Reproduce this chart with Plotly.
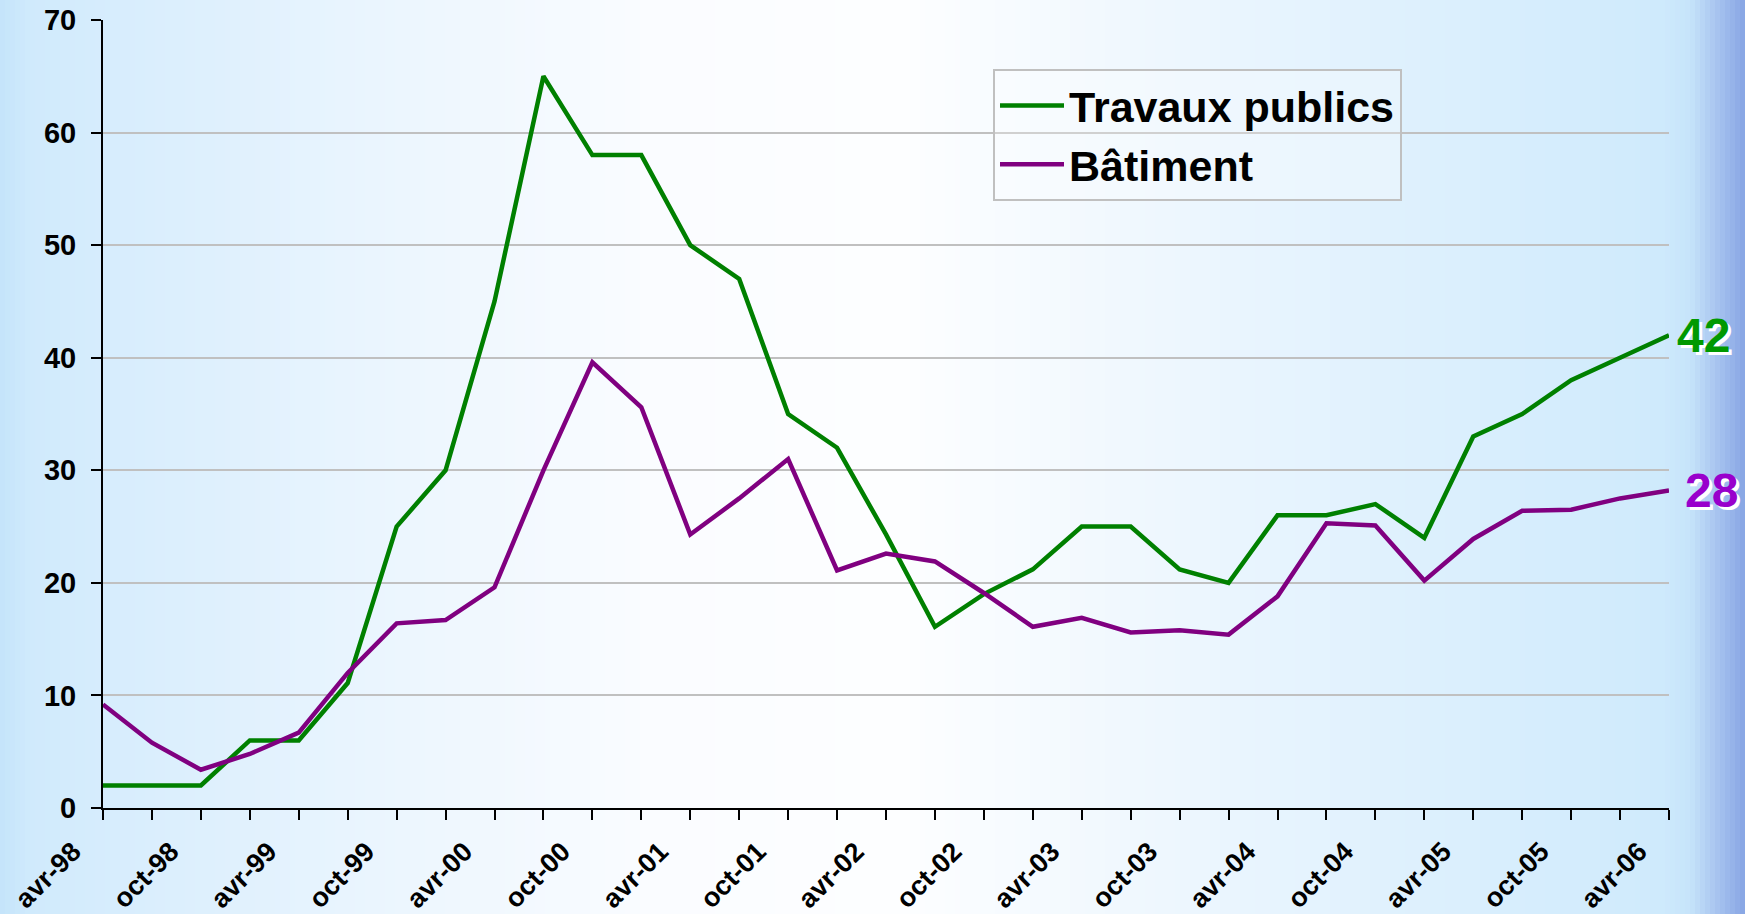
import plotly.graph_objects as go

quarters = []
for yr in range(98, 107):
    y2 = f"{yr % 100:02d}"
    for m in ["janv", "avr", "juil", "oct"]:
        quarters.append(f"{m}-{y2}")
quarters = quarters[quarters.index("avr-98"):quarters.index("avr-06") + 1]

tick_labels = [q if q.startswith(("avr", "oct")) else "" for q in quarters]

travaux_publics = [2, 2, 2, 6, 6, 11.1, 25, 30, 45, 65, 58, 58, 50, 47, 35, 32,
                   24.3, 16.1, 19, 21.2, 25, 25, 21.2, 20, 26, 26, 27, 24, 33, 35, 38, 40, 42]
batiment = [9.2, 5.8, 3.4, 4.8, 6.7, 12, 16.4, 16.7, 19.6, 30, 39.6, 35.6, 24.3, 27.5, 31, 21.1,
            22.6, 21.9, 19.1, 16.1, 16.9, 15.6, 15.8, 15.4, 18.8, 25.3, 25.1, 20.2, 23.9, 26.4, 26.5, 27.5, 28.2]

W, H = 1745, 914
ML, MR, MT, MB = 103, 76, 20, 106

FONT = "Arial, 'Liberation Sans', sans-serif"

fig = go.Figure()
fig.add_trace(go.Scatter(x=quarters, y=travaux_publics, mode="lines", name="Travaux publics",
                         line=dict(color="#008000", width=4.5), legendgroup="a"))
fig.add_trace(go.Scatter(x=quarters, y=batiment, mode="lines", name="Bâtiment",
                         line=dict(color="#800080", width=4.5), legendgroup="b"))

# background gradient (strips in paper coordinates)
stops = [(0, (196, 228, 250)), (30, (208, 234, 252)), (150, (218, 238, 253)), (400, (236, 246, 254)),
         (650, (250, 252, 255)), (900, (253, 254, 255)), (1200, (236, 246, 254)), (1500, (216, 238, 253)),
         (1660, (207, 234, 252)), (1690, (198, 228, 250)), (1715, (170, 198, 240)), (1745, (135, 165, 228))]

def col_at(p):
    for (p0, c0), (p1, c1) in zip(stops[:-1], stops[1:]):
        if p0 <= p <= p1:
            t = (p - p0) / (p1 - p0)
            return tuple(round(c0[i] + (c1[i] - c0[i]) * t) for i in range(3))
    return stops[-1][1]

pw = W - ML - MR
ph = H - MT - MB
shapes = []
step = 5
for p in range(0, W, step):
    c = col_at(p + step / 2)
    shapes.append(dict(type="rect", xref="paper", yref="paper", layer="below",
                       x0=(p - ML) / pw, x1=(p + step + 0.5 - ML) / pw,
                       y0=-MB / ph - 0.01, y1=1 + MT / ph + 0.01,
                       fillcolor=f"rgb{c}", line=dict(width=0)))

fig.update_layout(
    width=W, height=H,
    margin=dict(l=ML, r=MR, t=MT, b=MB, autoexpand=False),
    paper_bgcolor="white", plot_bgcolor="rgba(0,0,0,0)",
    shapes=shapes,
    font=dict(family=FONT, color="black"),
    showlegend=True,
    legend=dict(x=(993 - ML) / pw, y=(H - MB - 69) / ph, xanchor="left", yanchor="top",
                bgcolor="rgba(255,255,255,0.25)", bordercolor="#c0c0c0", borderwidth=2,
                font=dict(size=43, weight="bold", family=FONT), tracegroupgap=0,
                traceorder="grouped", itemwidth=64),
    xaxis=dict(type="category", range=[0, len(quarters) - 1], tickmode="array",
               tickvals=quarters, ticktext=tick_labels, tickangle=-45,
               tickfont=dict(size=27, weight="bold"), ticks="outside", ticklen=10, tickwidth=2,
               tickcolor="black", showline=True, linecolor="black", linewidth=2,
               showgrid=False, zeroline=False, ticklabelstandoff=5, ticklabelshift=-30,
               automargin=False),
    yaxis=dict(range=[0, 70], tickvals=[0, 10, 20, 30, 40, 50, 60, 70],
               tickfont=dict(size=29, weight="bold"), ticks="outside", ticklen=10, tickwidth=2,
               tickcolor="black", showline=True, linecolor="black", linewidth=2,
               showgrid=True, gridcolor="#c0c0c0", gridwidth=2, zeroline=False,
               ticklabelstandoff=9, automargin=False),
)

fig.add_annotation(x=quarters[-1], y=travaux_publics[-1], text=str(round(travaux_publics[-1])),
                   showarrow=False, xanchor="left", yanchor="middle", xshift=6,
                   font=dict(size=48, weight="bold", color="#009900", family=FONT,
                             shadow="3px 3px 0px white"))
fig.add_annotation(x=quarters[-1], y=batiment[-1], text=str(round(batiment[-1])),
                   showarrow=False, xanchor="left", yanchor="middle", xshift=14,
                   font=dict(size=48, weight="bold", color="#9900CC", family=FONT,
                             shadow="3px 3px 0px white"))

fig.write_html("out.html", config={"displayModeBar": False},
               post_script="document.body.style.margin='0';document.body.style.overflow='hidden';")
